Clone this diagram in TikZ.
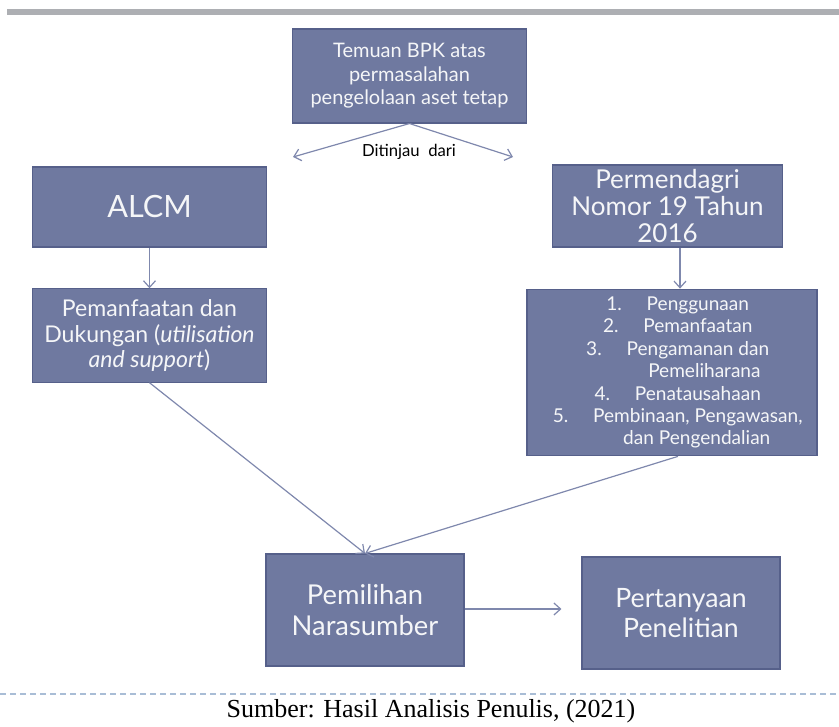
\documentclass[tikz,border=0pt]{standalone}
\usepackage{fontspec}
\setmainfont{Liberation Serif}
\newfontfamily\boxfont{Lato}
\usetikzlibrary{calc,arrows.meta}

\definecolor{boxfill}{HTML}{6F79A0}
\definecolor{boxline}{HTML}{56608A}
\definecolor{linkcol}{HTML}{7F88AD}
\definecolor{barcol}{HTML}{ADAFB3}
\definecolor{dashcol}{HTML}{A9BDD6}

\begin{document}
\begin{tikzpicture}
        [x=0.75pt,y=-0.75pt,
        box/.style={shape=rectangle,draw=boxline,fill=boxfill,line width=0.8pt,
          inner sep=0pt,align=center,text=white!93!boxfill,font=\boxfont},
        link/.style={-{Straight Barb[length=5pt,width=9pt]},draw=linkcol,line width=0.9pt}]
        \useasboundingbox (0,0) rectangle (839,727);
        %% frame lines
        \draw[barcol,line width=4.5pt] (7,12) -- (839,12);
        \draw[dashcol,line width=1.1pt,dash pattern=on 4.5pt off 3pt] (0,694) -- (839,694);
        %%
        \node[box,minimum width=176pt,minimum height=70.5pt,
          font=\boxfont\fontsize{15}{17.6}\selectfont] (tem) at (409.5,76)
          {Temuan BPK atas\\permasalahan\\pengelolaan aset tetap};
        \coordinate (vl) at (293,157);
        \coordinate (vr) at (513,157);
        \node[font=\boxfont\fontsize{12.5}{14}\selectfont] (dari) at (409,152) {Ditinjau\ \ dari};
        %%
        \node[box,minimum width=176pt,minimum height=60pt,
          font=\boxfont\fontsize{23}{26}\selectfont] (alcm) at (149.5,207) {ALCM};
        \node[box,minimum width=172pt,minimum height=61.5pt,
          font=\boxfont\fontsize{19.5}{20.2}\selectfont] (perm) at (667.5,206)
          {Permendagri\\Nomor 19 Tahun\\2016};
        %%
        \node[box,minimum width=176pt,minimum height=70pt,
          font=\boxfont\fontsize{17.3}{19}\selectfont] (pem) at (149.5,335.5)
          {Pemanfaatan dan\\Dukungan (\textit{utilisation}\\\textit{and support})};
        \node[box,minimum width=217.5pt,minimum height=125pt,
          font=\boxfont\fontsize{14.3}{16.8}\selectfont] (lst) at (672,372.5)
          {\hspace*{0.6em}1.\hspace{1.3em}Penggunaan\\
           \hspace*{0.6em}2.\hspace{1.3em}Pemanfaatan\\
           \hspace*{0.6em}3.\hspace{1.3em}Pengamanan dan\\
           \hspace*{3.4em}Pemeliharana\\
           \hspace*{0.6em}4.\hspace{1.3em}Penatausahaan\\
           \hspace*{0.6em}5.\hspace{1.3em}Pembinaan, Pengawasan,\\
           \hspace*{2.6em}dan Pengendalian};
        %%
        \node[box,minimum width=148.5pt,minimum height=84pt,
          font=\boxfont\fontsize{20.5}{23}\selectfont] (pil) at (365,610)
          {Pemilihan\\Narasumber};
        \node[box,minimum width=148.5pt,minimum height=84pt,
          font=\boxfont\fontsize{20}{23}\selectfont] (tny) at (681,613)
          {Pertanyaan\\Penelitian};
        %%
        \node[font=\fontsize{19.5}{21}\selectfont] (src) at (431,711)
          {Sumber: Hasil Analisis Penulis, (2021)};
        %%
        \path
        \foreach \startNode/\endNode in {tem.south/vl, tem.south/vr, alcm/pem, pem.south/pil.north}
        {
          (\startNode) edge[link] (\endNode)
        };
        \draw[link] ($(perm.south)+(12.5,0)$) -- ($(lst.north)+(8,0)$);
        \draw[link] ($(lst.south)+(6,0)$) -- (pil.north);
        \draw[link,shorten >=15pt] (pil.east |- 0,609) -- (tny.west |- 0,609);
        \end{tikzpicture}
\end{document}
